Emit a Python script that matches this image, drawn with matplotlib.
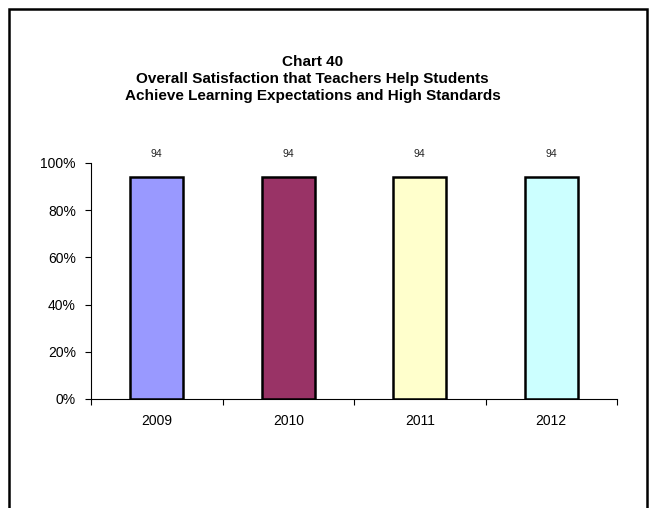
import matplotlib.pyplot as plt
from matplotlib.patches import Rectangle
from matplotlib.ticker import FuncFormatter

years = ['2009', '2010', '2011', '2012']
values = [94, 94, 94, 94]
colors = ['#9999FF', '#993366', '#FFFFCC', '#CCFFFF']

plt.rcParams['font.family'] = ['Liberation Sans', 'DejaVu Sans']

fig = plt.figure(figsize=(6.53, 5.08), dpi=100)
ax = fig.add_axes([0.1394, 0.2146, 0.8055, 0.4646])

x = range(len(years))
ax.bar(x, values, width=0.4, color=colors, edgecolor='black', linewidth=1.8)

for i, v in zip(x, values):
    ax.text(i, 101.5, str(v), ha='center', va='bottom', fontsize=7.5,
            family=['Liberation Sans Narrow', 'Liberation Sans'], color='#222222')

ax.set_xlim(-0.5, len(years) - 0.5)
ax.set_ylim(0, 100)
ax.set_yticks(range(0, 101, 20))
ax.yaxis.set_major_formatter(FuncFormatter(lambda v, p: f'{int(v)}%'))
ax.set_xticks(x)
ax.set_xticklabels(years)
ax.set_xticks([i - 0.5 for i in range(len(years) + 1)], minor=True)
ax.tick_params(axis='x', which='major', length=0, pad=11, labelsize=10)
ax.tick_params(axis='x', which='minor', length=4, width=0.8, direction='out')
ax.tick_params(axis='y', length=4, width=0.8, pad=7, labelsize=10)

for s in ['top', 'right']:
    ax.spines[s].set_visible(False)
ax.spines['left'].set_linewidth(0.8)
ax.spines['bottom'].set_linewidth(0.8)

fig.text(0.479, 0.8445, 'Chart 40\nOverall Satisfaction that Teachers Help Students\nAchieve Learning Expectations and High Standards',
         ha='center', va='center', fontsize=11, fontweight='bold', linespacing=1.26)

fig.patches.append(Rectangle((0.0138, -0.02), 0.977, 1.002, transform=fig.transFigure,
                             fill=False, edgecolor='black', linewidth=1.8))

fig.savefig('out.png', dpi=100)
